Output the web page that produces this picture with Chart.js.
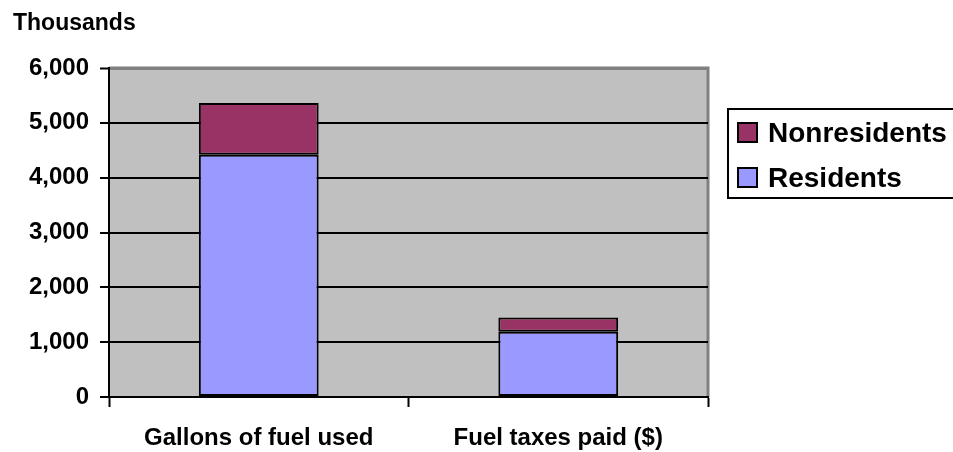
<!DOCTYPE html>
<html>
<head>
<meta charset="utf-8">
<title>Fuel used and taxes paid</title>
<script src="https://cdn.jsdelivr.net/npm/chart.js@4"></script>
<style>
  html, body { margin: 0; padding: 0; background: #fff; }
  canvas { display: block; }
</style>
</head>
<body>
<canvas id="chart_fuel" width="953" height="452"></canvas>
<script>
var categories = ['Gallons of fuel used', 'Fuel taxes paid ($)'];
var residents = [4420, 1190];
var nonresidents = [940, 262];
var yTicks = [0, 1000, 2000, 3000, 4000, 5000, 6000];

(function(){
  'use strict';

  var FONT = '"Liberation Sans", Arial, Helvetica, sans-serif';
  Chart.defaults.font.family = FONT;
  Chart.defaults.font.weight = 'bold';
  Chart.defaults.color = '#000';

  // grey plot background, grey frame on top/right, unit label and boxed legend
  var decor = {
    id: 'decor',
    beforeDraw: function(chart) {
      var a = chart.chartArea, c = chart.ctx;
      c.save();
      c.fillStyle = '#c0c0c0';
      c.fillRect(a.left, a.top, a.right - a.left, a.bottom - a.top);
      c.strokeStyle = '#808080';
      c.lineWidth = 3;
      c.beginPath();
      c.moveTo(a.left, a.top);
      c.lineTo(a.right, a.top);
      c.lineTo(a.right, a.bottom);
      c.stroke();
      c.restore();
    },
    afterDraw: function(chart) {
      var c = chart.ctx;
      c.save();
      c.fillStyle = '#000';
      c.textAlign = 'left';
      c.textBaseline = 'alphabetic';
      c.font = 'bold 23px ' + FONT;
      c.fillText('Thousands', 13, 30);

      c.strokeStyle = '#000';
      c.lineWidth = 2;
      c.strokeRect(728, 109, 240, 89);

      var ds = chart.data.datasets.slice().reverse();
      c.font = 'bold 28px ' + FONT;
      ds.forEach(function(d, i) {
        var y = 123 + i * 45;
        c.fillStyle = d.backgroundColor;
        c.fillRect(738, y, 19, 19);
        c.strokeRect(738, y, 19, 19);
        c.fillStyle = '#000';
        c.fillText(d.label, 768, y + 19);
      });
      c.restore();
    }
  };

  var data = {
    labels: categories,
    datasets: [{
      label: 'Residents',
      data: residents,
      backgroundColor: '#9999ff'
    }, {
      label: 'Nonresidents',
      data: nonresidents,
      backgroundColor: '#993366'
    }]
  };

  var options = {
    responsive: false,
    animation: false,
    layout: { padding: { top: 68, right: 245, left: 0, bottom: 0 } },
    datasets: {
      bar: {
        borderColor: '#000',
        borderWidth: 2,
        borderSkipped: false,
        categoryPercentage: 1,
        barPercentage: 0.4
      }
    },
    plugins: {
      legend: { display: false },
      title: { display: false },
      tooltip: { enabled: false }
    },
    scales: {
      x: {
        stacked: true,
        offset: true,
        afterFit: function(s) { s.height = 55; },
        border: { display: true, color: '#000', width: 2 },
        grid: {
          offset: true,
          drawOnChartArea: false,
          drawTicks: true,
          tickLength: 10,
          tickColor: '#000',
          tickWidth: 2
        },
        ticks: { padding: 17, font: { size: 24, weight: 'bold' }, color: '#000' }
      },
      y: {
        stacked: true,
        min: 0,
        max: 6000,
        afterFit: function(s) { s.width = 109; },
        afterBuildTicks: function(s) {
          s.ticks = yTicks.map(function(v) { return { value: v }; });
        },
        border: { display: true, color: '#000', width: 2 },
        grid: {
          color: function(ctx) { return ctx.tick && ctx.tick.value === 6000 ? '#808080' : '#000'; },
          lineWidth: function(ctx) { return ctx.tick && ctx.tick.value === 6000 ? 3 : 2; },
          drawTicks: true,
          tickLength: 9,
          tickColor: '#000',
          tickWidth: 2
        },
        ticks: {
          padding: 11,
          font: { size: 24, weight: 'bold' },
          color: '#000',
          callback: function(v) { return v.toLocaleString('en-US'); }
        }
      }
    }
  };

  var ctx = document.getElementById('chart_fuel').getContext('2d');
  var myChart = new Chart(ctx, {
    type: 'bar',
    data: data,
    options: options,
    plugins: [decor]
  });
})();
</script>
</body>
</html>
